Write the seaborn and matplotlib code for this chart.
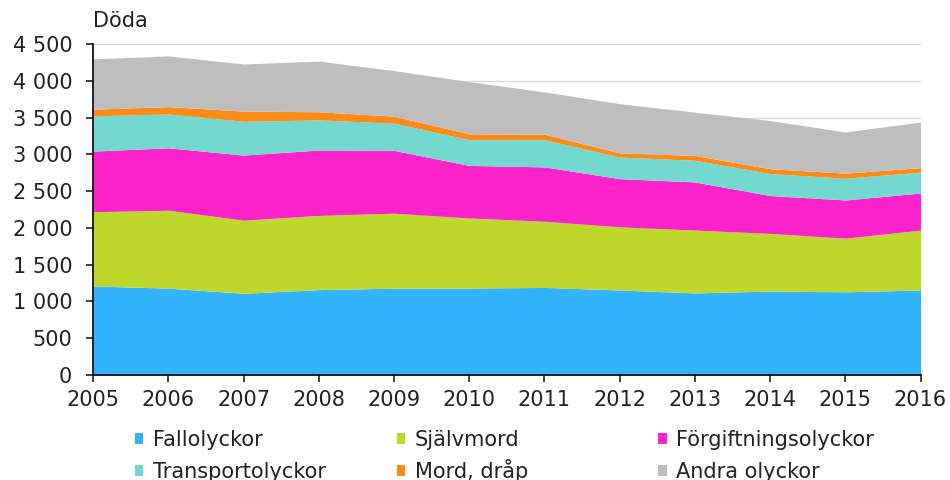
import matplotlib
matplotlib.use("Agg")
import matplotlib.pyplot as plt
from matplotlib.patches import Patch
from matplotlib.ticker import FuncFormatter
import seaborn as sns
import pandas as pd

years = list(range(2005, 2017))

# kumulativa värden avlästa från bilden -> omräknade till respektive kategori
fallolyckor = [1210, 1180, 1110, 1160, 1180, 1180, 1190, 1155, 1115, 1140, 1130, 1155]
sjalvmord = [1010, 1060, 995, 1010, 1020, 955, 900, 860, 855, 785, 730, 815]
forgiftning = [825, 850, 885, 890, 855, 715, 740, 655, 655, 515, 520, 505]
transport = [480, 460, 460, 410, 370, 350, 370, 295, 295, 300, 295, 285]
mord = [90, 100, 140, 110, 95, 80, 75, 55, 65, 65, 70, 60]
andra = [685, 690, 640, 690, 620, 710, 575, 670, 590, 655, 560, 620]

labels = ["Fallolyckor", "Självmord", "Förgiftningsolyckor",
          "Transportolyckor", "Mord, dråp", "Andra olyckor"]
colors = ["#33b3fb", "#bdd82b", "#fb23c9", "#72d8d0", "#fb8a17", "#bebebe"]

df = pd.DataFrame(dict(zip(labels, [fallolyckor, sjalvmord, forgiftning,
                                     transport, mord, andra])), index=years)

sns.set_theme(style="white")
plt.rcParams['font.family'] = ['DejaVu Sans']
FS = 15
TXT = "#222222"

fig, ax = plt.subplots(figsize=(9.5, 4.8), dpi=100)
fig.subplots_adjust(left=0.098, right=0.969, top=0.908, bottom=0.219)

ax.yaxis.grid(True, color="#d4dcdc", linewidth=1)
ax.set_axisbelow(True)
ax.stackplot(df.index, [df[c] for c in labels], colors=colors, linewidth=0)

ax.set_xlim(2005, 2016)
ax.set_ylim(0, 4500)
ax.set_xticks(years)
ax.set_yticks(range(0, 4501, 500))
ax.yaxis.set_major_formatter(FuncFormatter(lambda v, p: f"{int(v):,}".replace(",", " ")))
ax.tick_params(axis="both", labelsize=FS, colors=TXT, length=5, width=1.2,
               direction="out", left=True, bottom=True)
ax.tick_params(axis="y", pad=10)
ax.tick_params(axis="x", pad=6)
for s in ["top", "right"]:
    ax.spines[s].set_visible(False)
for s in ["left", "bottom"]:
    ax.spines[s].set_color("black")
    ax.spines[s].set_linewidth(1.2)

ax.text(0.0, 1.04, "Döda", transform=ax.transAxes, fontsize=FS, color=TXT,
        ha="left", va="bottom")

# en post per legend, radvis i tre kolumner som i originalet
col_x = [0.142, 0.418, 0.693]
row_y = [0.0625, -0.004]
for i, lab in enumerate(labels):
    x = col_x[i % 3]
    y = row_y[i // 3]
    h = Patch(facecolor=colors[i], edgecolor="none", label=lab)
    leg = fig.legend(handles=[h], loc="lower left", bbox_to_anchor=(x, y),
                     frameon=False, fontsize=FS, handlelength=0.4, handleheight=0.4,
                     handletextpad=0.45, borderpad=0, borderaxespad=0)
    leg.get_texts()[0].set_color(TXT)

plt.savefig("out.png", dpi=100)
plt.close()
